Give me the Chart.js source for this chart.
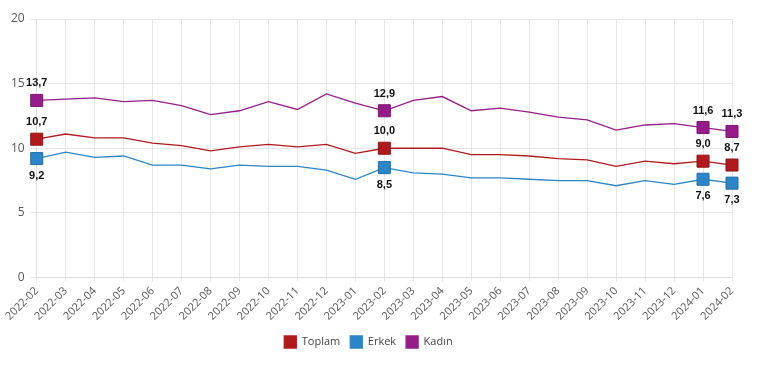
<!DOCTYPE html>
<html>
<head>
<meta charset="utf-8">
<script src="https://cdn.jsdelivr.net/npm/chart.js@4/dist/chart.umd.min.js"></script>
<style>
  html, body { margin: 0; padding: 0; background: #fff; }
  #wrap { width: 759px; height: 365px; position: relative; }
</style>
</head>
<body>
<div id="wrap"><canvas id="chart"></canvas></div>
<script>
// Aylar
var months = ['2022-02', '2022-03', '2022-04', '2022-05', '2022-06', '2022-07', '2022-08', '2022-09',
  '2022-10', '2022-11', '2022-12', '2023-01', '2023-02', '2023-03', '2023-04', '2023-05', '2023-06',
  '2023-07', '2023-08', '2023-09', '2023-10', '2023-11', '2023-12', '2024-01', '2024-02'];

var toplam = [10.7, 11.1, 10.8, 10.8, 10.4, 10.2, 9.8, 10.1, 10.3, 10.1, 10.3, 9.6, 10.0,
  10.0, 10.0, 9.5, 9.5, 9.4, 9.2, 9.1, 8.6, 9.0, 8.8, 9.0, 8.7];
var erkek = [9.2, 9.7, 9.3, 9.4, 8.7, 8.7, 8.4, 8.7, 8.6, 8.6, 8.3, 7.6, 8.5,
  8.1, 8.0, 7.7, 7.7, 7.6, 7.5, 7.5, 7.1, 7.5, 7.2, 7.6, 7.3];
var kadin = [13.7, 13.8, 13.9, 13.6, 13.7, 13.3, 12.6, 12.9, 13.6, 13.0, 14.2, 13.5, 12.9,
  13.7, 14.0, 12.9, 13.1, 12.8, 12.4, 12.2, 11.4, 11.8, 11.9, 11.6, 11.3];

// işaretli noktalar (indeks)
var marked = [0, 12, 23, 24];
var yTicks = [0, 5, 10, 15, 20];

var FONT = '"Open Sans", "Noto Sans", sans-serif';

function markerRadius(ctx) {
  return marked.indexOf(ctx.dataIndex) >= 0 ? 8.5 : 0;
}

function makeSet(label, data, color, border, pos) {
  return {
    label: label,
    data: data,
    borderColor: color,
    backgroundColor: color,
    borderWidth: 1.3,
    tension: 0,
    pointStyle: 'rect',
    pointRadius: markerRadius,
    pointHoverRadius: markerRadius,
    pointBackgroundColor: color,
    pointBorderColor: border,
    pointBorderWidth: 1,
    labelPos: pos
  };
}

// değer etiketleri
var valueLabels = {
  id: 'valueLabels',
  afterDatasetsDraw: function (chart) {
    var c = chart.ctx;
    c.save();
    c.font = 'bold 11px "Liberation Sans", Arial, sans-serif';
    c.fillStyle = '#111';
    c.textAlign = 'center';
    c.textBaseline = 'middle';
    chart.data.datasets.forEach(function (ds, i) {
      var meta = chart.getDatasetMeta(i);
      marked.forEach(function (idx) {
        var pt = meta.data[idx];
        var txt = ds.data[idx].toFixed(1).replace('.', ',');
        var dy = ds.labelPos === 'below' ? 17 : -17;
        c.fillText(txt, pt.x, pt.y + dy);
      });
    });
    c.restore();
  }
};

new Chart(document.getElementById('chart'), {
  type: 'line',
  data: {
    labels: months,
    datasets: [
      makeSet('Toplam', toplam, '#b01a1c', '#8e1416', 'above'),
      makeSet('Erkek', erkek, '#2b85c7', '#2270a8', 'below'),
      makeSet('Kadın', kadin, '#961c8a', '#7a1570', 'above')
    ]
  },
  options: {
    responsive: true,
    maintainAspectRatio: false,
    animation: false,
    layout: { padding: { left: 5, right: 27, top: 19, bottom: 7 } },
    plugins: {
      tooltip: { enabled: false },
      legend: {
        position: 'bottom',
        labels: {
          boxWidth: 12,
          boxHeight: 12,
          padding: 10,
          color: '#444',
          font: { family: FONT, size: 11 }
        }
      }
    },
    scales: {
      x: {
        grid: { color: '#e6e6e6', tickLength: 4 },
        border: { color: '#dcdcdc' },
        ticks: {
          color: '#555',
          padding: 3,
          maxRotation: 45,
          minRotation: 45,
          autoSkip: false,
          font: { family: FONT, size: 11 }
        }
      },
      y: {
        min: 0,
        max: 20,
        afterBuildTicks: function (axis) {
          axis.ticks = yTicks.map(function (v) { return { value: v }; });
        },
        grid: { color: '#e6e6e6', tickLength: 6 },
        border: { color: '#dcdcdc' },
        ticks: {
          color: '#555',
          padding: 6,
          font: { family: FONT, size: 12 }
        }
      }
    }
  },
  plugins: [valueLabels]
});
</script>
</body>
</html>
